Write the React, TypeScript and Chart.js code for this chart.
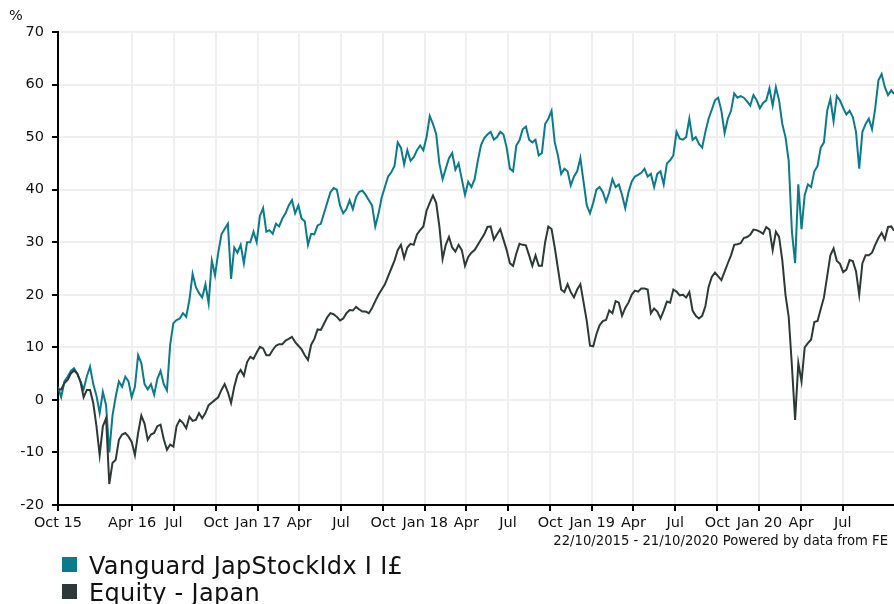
import React, { useEffect, useRef } from "react";
import { Chart, registerables } from "chart.js";

Chart.register(...registerables);

const seriesNames = ["Vanguard JapStockIdx I I£", "Equity - Japan"];
const seriesColors = ["#0b7a8b", "#2d3936"];

// weekly values (% growth) starting 22/10/2015
const vanguardValues = [
  2.5, 0.5, 3.5, 4.4, 5.5, 6, 5, 3.5, 2, 4.5,
  6.3, 3, 0.8, -2.5, 1.5, -1, -10, -3, 0.6, 3.5,
  2.5, 4.4, 3.5, 0.5, 2.5, 8.5, 7, 3, 2, 3,
  1, 4, 5.5, 3, 1.8, 10.5, 14.6, 15.2, 15.5, 16.5,
  15.8, 19, 24, 21.5, 20.3, 19.5, 22, 18.4, 26.5, 23.7,
  28, 31.5, 32.5, 33.5, 23, 29, 28, 29.5, 26, 30,
  30, 32, 30, 35, 36.5, 32, 32.3, 31.6, 33.5, 33,
  34.5, 35.5, 37, 38, 35.5, 37, 34.5, 34, 29.5, 31.6,
  31.5, 33.2, 33.5, 35.5, 37.5, 39.5, 40.3, 40, 37, 35.5,
  36.3, 38, 36.3, 38.6, 39.6, 39.8, 39, 38, 37, 33,
  35.4, 38.5, 40.5, 42.5, 43.3, 44.5, 49, 48, 44.8, 47.5,
  45.5, 46.2, 47.5, 48.4, 47.5, 50, 54, 52.5, 50.6, 45,
  42, 44, 46, 47, 43.8, 45, 42, 39, 41.5, 40.5,
  42, 45.5, 48.5, 49.8, 50.5, 51, 49.5, 50, 51, 50.5,
  48, 44, 43.5, 48.4, 49.4, 51.5, 52, 49.5, 49, 49.5,
  46.5, 47, 52.5, 53.5, 55, 49, 46.5, 43, 44, 43.5,
  40.8, 42.5, 43.5, 46, 41.5, 37, 35.5, 37.5, 40, 40.5,
  39.5, 37.7, 39.5, 42, 40.5, 41, 39, 36.5, 39.5, 41.5,
  42.5, 42.8, 43.2, 44, 42.5, 43, 40.5, 43, 43.5, 41,
  45, 45.6, 46.5, 51, 49.7, 49.5, 50, 53.5, 49.5, 50,
  48.7, 48, 51, 53.5, 55.2, 57, 57.5, 55, 50.8, 53.5,
  55, 58.3, 57.5, 57.8, 57.5, 56.8, 56, 58, 57, 55.5,
  56.5, 57, 59.3, 56, 59.5, 57, 52.5, 50, 45.5, 32,
  26, 41, 32.5, 39, 41, 40.5, 43.5, 44.5, 48, 49,
  55, 57.3, 53, 57.8, 57, 55.5, 54.3, 55, 53.8, 51,
  44, 51, 52.5, 53.5, 51.5, 55.5, 60.8, 62, 59.5, 58,
  58.9, 58.2,
];

const equityJapanValues = [
  2, 2, 3.2, 3.8, 5, 5.6, 5, 3.5, 0.5, 1.9,
  1.9, -0.6, -5, -10.5, -5, -3.5, -16, -12, -11.4, -7.6,
  -6.6, -6.3, -7, -8, -10.5, -6.3, -3, -4.5, -7.6, -6.6,
  -6.3, -5, -4.7, -7.5, -9.5, -8.5, -8.9, -5, -3.8, -4.4,
  -5.4, -3.2, -4, -3.8, -2.5, -3.5, -2.5, -1, -0.5, 0,
  0.5, 1.9, 3, 1.5, -0.6, 2.5, 4.8, 5.7, 4.6, 7.2,
  8.2, 7.8, 9, 10.1, 9.8, 8.5, 8.5, 9.5, 10.3, 10.6,
  10.6, 11.3, 11.6, 12, 11, 10.3, 9.6, 8.5, 7.6, 10.5,
  11.6, 13.4, 13.3, 14.5, 15.7, 16.5, 16.3, 15.8, 15.1, 15.5,
  16.5, 17.1, 17, 17.7, 17.2, 16.8, 16.8, 16.5, 17.5, 18.8,
  20, 21, 22, 23.5, 25, 26.5, 28.5, 29.5, 27, 29,
  29.7, 29.5, 31.5, 32.3, 33, 36, 37.5, 38.9, 37.5, 33,
  26.8, 29.5, 31, 29, 28.2, 29.5, 28.5, 25.5, 27.2, 28,
  28.5, 29.5, 30.5, 31.5, 32.9, 33, 30.5, 31.5, 32.5, 30.5,
  28.5, 26, 25.5, 27.8, 29.7, 29.5, 29.4, 27.5, 25.5, 27.5,
  25.5, 25.5, 30, 33, 32.5, 29, 25, 21, 20.5, 22,
  20.5, 19.5, 21, 22, 18.5, 15, 10.3, 10.2, 12.5, 14.2,
  15, 15.2, 17, 16.5, 18.8, 18.5, 16, 17.5, 18.5, 20,
  20.8, 20.6, 21.2, 21.2, 21, 16.5, 17.4, 16.8, 15.5, 17,
  18.7, 18.5, 21, 20.6, 19.9, 20, 19.5, 20.5, 17, 16,
  15.5, 16, 17.8, 21.5, 23.4, 24.2, 23.5, 22.8, 24.4, 26,
  27.5, 29.5, 29.6, 29.8, 30.8, 31, 31.4, 32.4, 32.3, 32,
  31.6, 32.9, 32.4, 28.5, 32, 31, 26.6, 20, 15.8, 6.5,
  -3.8, 7, 3.5, 10, 10.8, 11.5, 14.8, 15, 17.3, 19.5,
  23.5, 27.5, 28.8, 26.5, 25.9, 24.3, 24.8, 26.6, 26.4, 24.5,
  20, 26, 27.5, 27.5, 28, 29.5, 30.8, 31.8, 30.5, 32.9,
  33, 32.2,
];

const startDate = "2015-10-22";
const endDate = "2020-10-21";
const tickDates = [
  "2015-10-22", "2016-04-01", "2016-07-01", "2016-10-01", "2017-01-01",
  "2017-04-01", "2017-07-01", "2017-10-01", "2018-01-01", "2018-04-01",
  "2018-07-01", "2018-10-01", "2019-01-01", "2019-04-01", "2019-07-01",
  "2019-10-01", "2020-01-01", "2020-04-01", "2020-07-01",
];
const tickLabels = [
  "Oct 15", "Apr 16", "Jul", "Oct", "Jan 17", "Apr", "Jul", "Oct", "Jan 18", "Apr",
  "Jul", "Oct", "Jan 19", "Apr", "Jul", "Oct", "Jan 20", "Apr", "Jul",
];
const yTicks = [-20, -10, 0, 10, 20, 30, 40, 50, 60, 70];
const footnote = "22/10/2015 - 21/10/2020 Powered by data from FE";

const DAY = 86400000;
const dayOf = (d: string) => Math.round((Date.parse(d) - Date.parse(startDate)) / DAY);
const totalDays = dayOf(endDate);
const tickDays = tickDates.map(dayOf);
const toPoints = (vals: number[]) =>
  vals.map((v, i) => ({ x: Math.min(i * 7, totalDays), y: v }));

const FONT = "'DejaVu Sans', Verdana, sans-serif";

export default function App() {
  const ref = useRef<HTMLCanvasElement | null>(null);

  useEffect(() => {
    document.body.style.margin = "0";
    const canvas = ref.current;
    if (!canvas) return;
    const chart = new Chart(canvas, {
      type: "line",
      data: {
        datasets: [
          {
            label: seriesNames[0],
            data: toPoints(vanguardValues),
            borderColor: seriesColors[0],
            backgroundColor: seriesColors[0],
            borderWidth: 2,
            pointRadius: 0,
            tension: 0,
            order: 1,
          },
          {
            label: seriesNames[1],
            data: toPoints(equityJapanValues),
            borderColor: seriesColors[1],
            backgroundColor: seriesColors[1],
            borderWidth: 2,
            pointRadius: 0,
            tension: 0,
            order: 0,
          },
        ],
      },
      options: {
        animation: false,
        responsive: false,
        devicePixelRatio: 1,
        layout: { padding: { top: 32, left: 0, right: 0, bottom: 0 } },
        plugins: { legend: { display: false }, tooltip: { enabled: false } },
        scales: {
          x: {
            type: "linear",
            min: 0,
            max: totalDays,
            afterBuildTicks: (s: any) => {
              s.ticks = tickDays.map((v) => ({ value: v }));
            },
            afterFit: (s: any) => {
              s.height = 99;
            },
            ticks: {
              autoSkip: false,
              maxRotation: 0,
              minRotation: 0,
              padding: 4,
              color: "#111",
              font: { family: FONT, size: 14.5 },
              callback: (_v: any, i: number) => tickLabels[i],
            },
            grid: {
              color: "#efefef",
              lineWidth: 2,
              tickColor: "#000",
              tickWidth: 2,
              tickLength: 6,
            },
            border: { color: "#000", width: 2 },
          },
          y: {
            type: "linear",
            min: -20,
            max: 70,
            afterBuildTicks: (s: any) => {
              s.ticks = yTicks.map((v) => ({ value: v }));
            },
            afterFit: (s: any) => {
              s.width = 58;
            },
            ticks: {
              padding: 8,
              color: "#111",
              font: { family: FONT, size: 14.5 },
              callback: (v: any) => String(v),
            },
            grid: {
              color: "#efefef",
              lineWidth: 2,
              tickColor: "#000",
              tickWidth: 2,
              tickLength: 6,
            },
            border: { color: "#000", width: 2 },
          },
        },
      },
    });
    return () => chart.destroy();
  }, []);

  const textBase: React.CSSProperties = {
    position: "absolute",
    fontFamily: FONT,
    lineHeight: 1,
    whiteSpace: "nowrap",
    color: "#111",
  };

  return (
    <div
      style={{
        position: "fixed",
        left: 0,
        top: 0,
        width: 894,
        height: 604,
        overflow: "hidden",
        background: "#fff",
      }}
    >
      <canvas ref={ref} width={894} height={604} style={{ position: "absolute", left: 0, top: 0, width: 894, height: 604 }} />
      <div style={{ ...textBase, left: 9, top: 8, fontSize: 14.5 }}>%</div>
      <div style={{ ...textBase, right: 6, top: 533.5, fontSize: 13.2 }}>{footnote}</div>
      {seriesNames.map((name, i) => (
        <React.Fragment key={name}>
          <div
            style={{
              position: "absolute",
              left: 62,
              top: 557 + i * 27,
              width: 15,
              height: 15,
              background: seriesColors[i],
            }}
          />
          <div style={{ ...textBase, left: 89, top: 554.2 + i * 27, fontSize: 24, letterSpacing: 0.3 }}>{name}</div>
        </React.Fragment>
      ))}
    </div>
  );
}
